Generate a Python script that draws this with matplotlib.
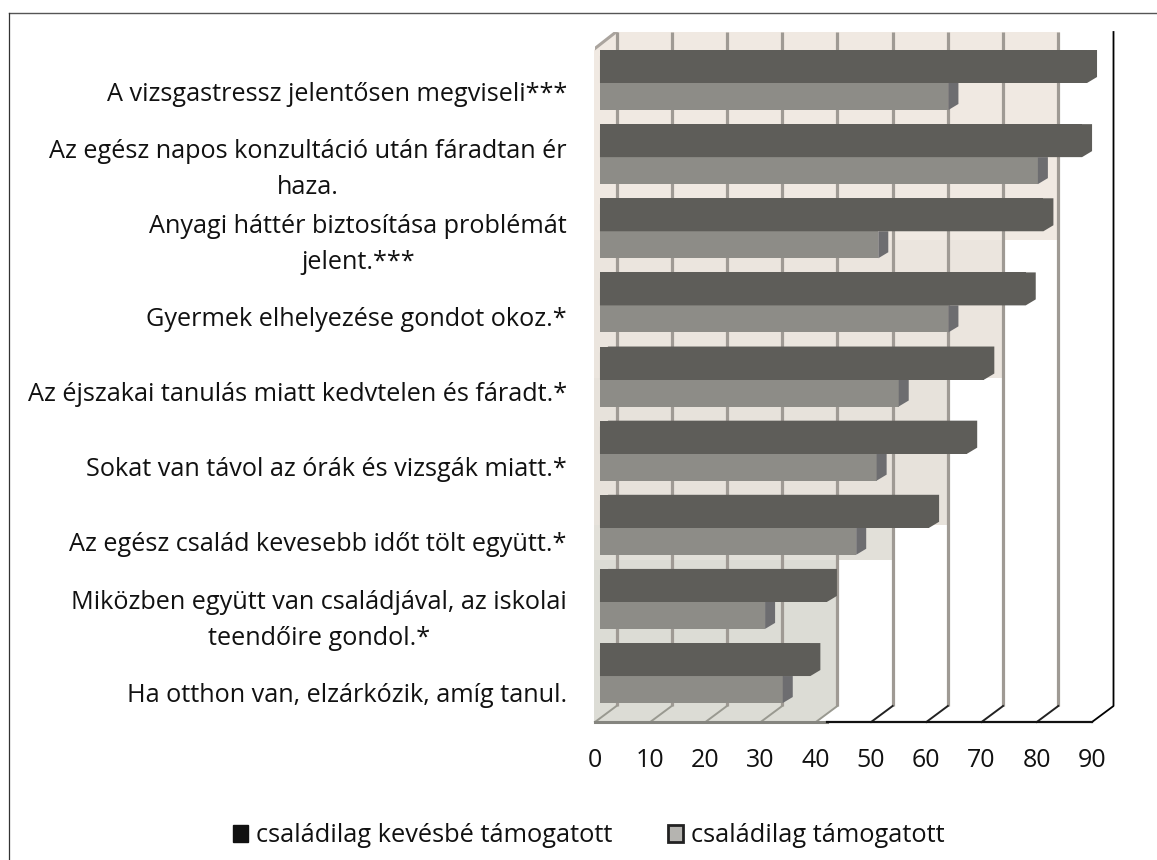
import matplotlib
matplotlib.use("Agg")
import matplotlib.pyplot as plt
from matplotlib.patches import Patch, Polygon
from matplotlib.transforms import Affine2D

labels = [
    "A vizsgastressz jelentősen megviseli***",
    "Az egész napos konzultáció után fáradtan ér\nhaza.",
    "Anyagi háttér biztosítása problémát\njelent.***",
    "Gyermek elhelyezése gondot okoz.*",
    "Az éjszakai tanulás miatt kedvtelen és fáradt.*",
    "Sokat van távol az órák és vizsgák miatt.*",
    "Az egész család kevesebb időt tölt együtt.*",
    "Miközben együtt van családjával, az iskolai\nteendőire gondol.*",
    "Ha otthon van, elzárkózik, amíg tanul.",
]
less_supported = [89.1, 88.2, 81.2, 78, 70.5, 67.4, 60.5, 42, 39]
supported = [64, 80.2, 51.3, 64, 55, 51, 47.3, 30.8, 34]
series_names = ["családilag kevésbé támogatott", "családilag támogatott"]
ticks = [0, 10, 20, 30, 40, 50, 60, 70, 80, 90]

DARK = "#5e5d59"
LIGHT = "#8d8c87"
LIGHT_SIDE = "#6d6d70"
GRID = "#9f9a94"
FONT = "Open Sans"

W, H = 1157, 860
fig = plt.figure(figsize=(W / 100, H / 100), dpi=100)
ax = fig.add_axes([595 / W, 1 - 722 / H, (1092 - 595) / W, (722 - 32) / H])
ax.set_xlim(0, 90)
ax.set_ylim(8.62, -0.688)
ax.patch.set_alpha(0)

# pixel coordinates from the top left, only for the frame and the wall
px = Affine2D().scale(1, -1).translate(0, H)

# frame of the scanned chart
fig.add_artist(plt.Line2D([9, W], [13, 13], transform=px, color="#555555", lw=1))
fig.add_artist(plt.Line2D([9, 9], [13, H], transform=px, color="#333333", lw=0.9))

# shaded wall, narrower further down like in the scan
wall_steps = [(32, 240, 1060, "#f0e9e2"), (240, 378, 1005, "#ebe5de"),
              (378, 525, 949, "#e7e2db"), (525, 560, 893, "#e2e0d9"),
              (560, 706, 838, "#dcdcd5")]
for top, bottom, right, colour in wall_steps:
    ax.add_patch(Polygon([(594, max(top, 50)), (616, top), (right, top), (right, bottom), (594, bottom)],
                         transform=px, fc=colour, ec="none", zorder=0, clip_on=False))
ax.add_patch(Polygon([(594, 706), (838, 706), (815, 722), (594, 722)],
                     transform=px, fc="#dcdcd5", ec="none", zorder=0, clip_on=False))

# back grid lines and floor ticks
depth_x = 21.5 / 5.522
depth_y = 16 / 74.1
top_y, floor_y = ax.get_ylim()[1], ax.get_ylim()[0]
for t in ticks[:-1]:
    ax.plot([t + depth_x, t + depth_x], [top_y, floor_y - depth_y], color=GRID, lw=2.3,
            zorder=1, clip_on=False, solid_capstyle="butt")
    ax.plot([t, t + depth_x], [floor_y, floor_y - depth_y], color="#222222" if t > 40 else "#999990",
            lw=1.4, zorder=1, clip_on=False)
ax.plot([90, 90 + depth_x, 90 + depth_x], [floor_y, floor_y - depth_y, top_y], color="black", lw=1.3,
        zorder=1, clip_on=False)
ax.plot([0, 42], [floor_y, floor_y], color="#85857f", lw=2.2, zorder=1, clip_on=False)
ax.plot([42, 90], [floor_y, floor_y], color="#111111", lw=1.6, zorder=1, clip_on=False)

# left wall
ax.add_artist(plt.Line2D([593, 593, 616], [722, 50, 32], transform=px, color="#aaa49e", lw=2.2, zorder=2))
ax.add_artist(plt.Line2D([593, 593], [722, 708], transform=px, color="black", lw=1.4, zorder=2))

# bars with a fake 3d end
bar_dx = 10 / 5.522
bar_dy = 6 / 74.1
dark_h = 0.445
light_h = 0.364
start = 0.9
for i, (a, b) in enumerate(zip(less_supported, supported)):
    ax.barh(i - dark_h / 2, a - start, height=dark_h, left=start, color=DARK, zorder=4)
    ax.add_patch(Polygon([(start, i - dark_h + bar_dy), (start + 1.5, i - dark_h), (a + bar_dx, i - dark_h),
                          (a + bar_dx, i - bar_dy), (a, i), (start, i)], fc=DARK, ec="none", zorder=4,
                         clip_on=False))
    ax.barh(i + light_h / 2, b - start, height=light_h, left=start, color=LIGHT, zorder=3)
    ax.add_patch(Polygon([(b, i), (b + bar_dx, i), (b + bar_dx, i + light_h - bar_dy), (b, i + light_h)],
                         fc=LIGHT_SIDE, ec="none", zorder=3, clip_on=False))

for i, label in enumerate(labels):
    ax.text(-5.1, i * 1.0135 + 0.15, label, ha="right", va="center", multialignment="center",
            family=FONT, fontsize=18.2, color="#111111", linespacing=1.58, clip_on=False)

ax.set_xticks(ticks)
ax.set_yticks([])
ax.tick_params(axis="x", length=0, pad=19, labelsize=18, labelcolor="#111111")
for tick in ax.get_xticklabels():
    tick.set_family(FONT)
for spine in ax.spines.values():
    spine.set_visible(False)

handles = [Patch(fc="#111111", ec="#111111"), Patch(fc="#b5b4b0", ec="#222222", lw=2)]
fig.legend(handles, series_names, ncols=2, frameon=False, loc="center left",
           bbox_to_anchor=(210 / W, 1 - 836 / H), prop={"family": FONT, "size": 18.3},
           handlelength=0.6, handleheight=0.6, handletextpad=0.3, columnspacing=2.2, labelcolor="#111111")

fig.savefig("out.png", dpi=100, facecolor="white")
